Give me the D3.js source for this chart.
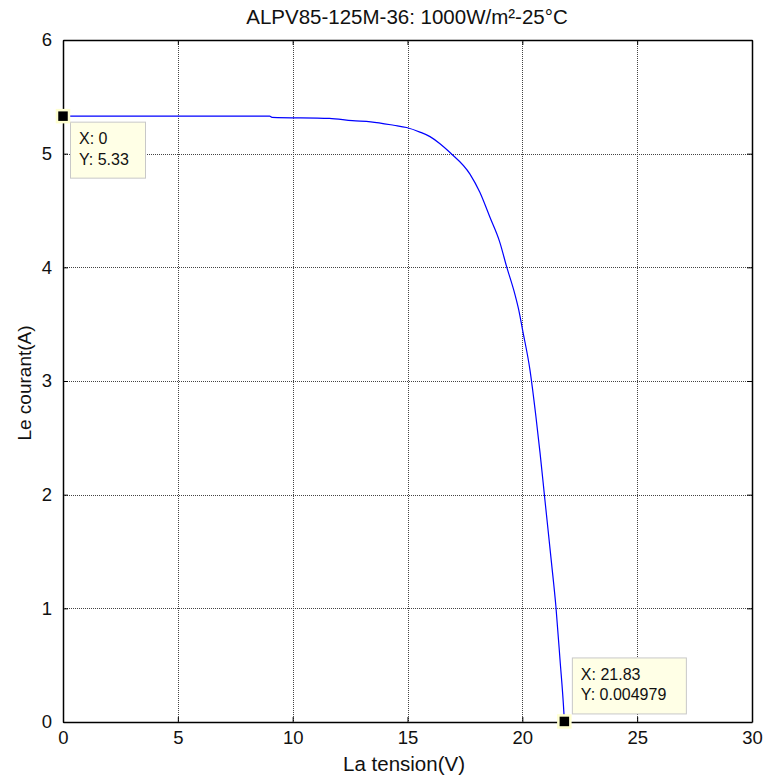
<!DOCTYPE html>
<html>
<head>
<meta charset="utf-8">
<script src="https://cdn.jsdelivr.net/npm/d3@7"></script>
<style>
  body { margin: 0; background: #fff; }
  svg { font-family: "Liberation Sans", Arial, sans-serif; }
</style>
</head>
<body>
<div id="chart"></div>
<script>
// I-V curve
var voltage = [0, 9.0, 9.1, 11.6, 12.6, 13.4, 14.4, 14.96, 15.54, 15.98, 16.4, 16.85, 17.72, 18.15, 18.59, 19.02, 19.31, 19.68, 19.85, 20.01, 20.33, 20.59, 20.77, 20.98, 21.27, 21.46, 21.64, 21.81, 21.83]
var current = [5.33, 5.33, 5.32, 5.31, 5.29, 5.28, 5.25, 5.23, 5.19, 5.15, 5.09, 5.01, 4.82, 4.66, 4.44, 4.22, 4.01, 3.76, 3.62, 3.45, 3.10, 2.69, 2.37, 1.96, 1.40, 1.02, 0.55, 0.08, 0.005]

var xTicks = [0, 5, 10, 15, 20, 25, 30]
var yTicks = [0, 1, 2, 3, 4, 5, 6]

// data tips
var tipX = [0, 21.83]
var tipY = [5.33, 0.004979]
var tipText = [["X: 0", "Y: 5.33"], ["X: 21.83", "Y: 0.004979"]]

var title = "ALPV85-125M-36: 1000W/m²-25°C"
var xLabel = "La tension(V)"
var yLabel = "Le courant(A)"

var width = 767, height = 776
// plot box (window.top is reserved, so use other names)
var plotLeft = 63, plotRight = 752, plotTop = 40, plotBottom = 722

var data = voltage.map(function (v, i) { return { v: v, c: current[i] } })

var svg = d3.select("#chart").append("svg")
  .attr("width", width)
  .attr("height", height)

var x = d3.scaleLinear().domain([0, 30]).range([plotLeft, plotRight])
var y = d3.scaleLinear().domain([0, 6]).range([plotBottom, plotTop])

// grid
svg.append("g").selectAll("line")
  .data(xTicks.slice(1, -1))
  .enter().append("line")
  .attr("x1", function (d) { return Math.round(x(d)) + 0.5 })
  .attr("x2", function (d) { return Math.round(x(d)) + 0.5 })
  .attr("y1", plotTop).attr("y2", plotBottom)
  .attr("stroke", "#444")
  .attr("stroke-width", 1)
  .attr("stroke-dasharray", "1,1")

svg.append("g").selectAll("line")
  .data(yTicks.slice(1, -1))
  .enter().append("line")
  .attr("y1", function (d) { return Math.round(y(d)) + 0.5 })
  .attr("y2", function (d) { return Math.round(y(d)) + 0.5 })
  .attr("x1", plotLeft).attr("x2", plotRight)
  .attr("stroke", "#444")
  .attr("stroke-width", 1)
  .attr("stroke-dasharray", "1,1")

// axes, ticks inside on all four sides
var xb = d3.axisBottom(x).tickValues(xTicks).tickSizeInner(-5).tickSizeOuter(0).tickPadding(9)
var xt = d3.axisTop(x).tickValues(xTicks).tickSizeInner(-5).tickSizeOuter(0).tickFormat("")
var yl = d3.axisLeft(y).tickValues(yTicks).tickFormat(d3.format("d")).tickSizeInner(-5).tickSizeOuter(0).tickPadding(11)
var yr = d3.axisRight(y).tickValues(yTicks).tickSizeInner(-5).tickSizeOuter(0).tickFormat("")

function styleAxis(g) {
  g.selectAll("path").attr("stroke", "#000").attr("stroke-width", 1.5)
  g.selectAll("line").attr("stroke", "#000")
  g.selectAll("text").attr("font-size", 18.5).attr("fill", "#111")
    .attr("font-family", "Liberation Sans, Arial, sans-serif")
}

svg.append("g").attr("transform", "translate(0," + plotBottom + ")").call(xb).call(styleAxis)
svg.append("g").attr("transform", "translate(0," + plotTop + ")").call(xt).call(styleAxis)
svg.append("g").attr("transform", "translate(" + plotLeft + ",0)").call(yl).call(styleAxis)
svg.append("g").attr("transform", "translate(" + plotRight + ",0)").call(yr).call(styleAxis)

// curve
var line = d3.line()
  .x(function (d) { return x(d.v) })
  .y(function (d) { return y(d.c) })
  .curve(d3.curveMonotoneX)

svg.append("path")
  .datum(data)
  .attr("d", line)
  .attr("fill", "none")
  .attr("stroke", "#0000ff")
  .attr("stroke-width", 1.2)

// data tips
var tipOffsets = [[7.5, 6], [8, -63.5]]
var tipSize = [[75, 56], [114, 56]]

tipX.forEach(function (tx, i) {
  var px = x(tx), py = y(tipY[i])
  var bx = px + tipOffsets[i][0], by = py + tipOffsets[i][1]
  svg.append("rect")
    .attr("x", bx).attr("y", by)
    .attr("width", tipSize[i][0]).attr("height", tipSize[i][1])
    .attr("fill", "#ffffe6")
    .attr("stroke", "#c8c8c8")
    .attr("stroke-width", 1)
  tipText[i].forEach(function (t, j) {
    svg.append("text")
      .attr("x", bx + 8.5)
      .attr("y", by + 22 + j * 20.5)
      .attr("font-size", 16)
      .attr("fill", "#111")
      .text(t)
  })
  svg.append("rect")
    .attr("x", px - 6).attr("y", py - 6)
    .attr("width", 12).attr("height", 12)
    .attr("fill", "#000")
    .attr("stroke", "#ffffd0")
    .attr("stroke-width", 2.5)
})

// labels
svg.append("text")
  .attr("x", 407).attr("y", 24)
  .attr("text-anchor", "middle")
  .attr("font-size", 20.5)
  .attr("fill", "#111")
  .text(title)

svg.append("text")
  .attr("x", 404).attr("y", 771)
  .attr("text-anchor", "middle")
  .attr("font-size", 20.5)
  .attr("fill", "#111")
  .text(xLabel)

svg.append("text")
  .attr("transform", "translate(31," + 383 + ") rotate(-90)")
  .attr("text-anchor", "middle")
  .attr("font-size", 19)
  .attr("fill", "#111")
  .text(yLabel)
</script>
</body>
</html>
